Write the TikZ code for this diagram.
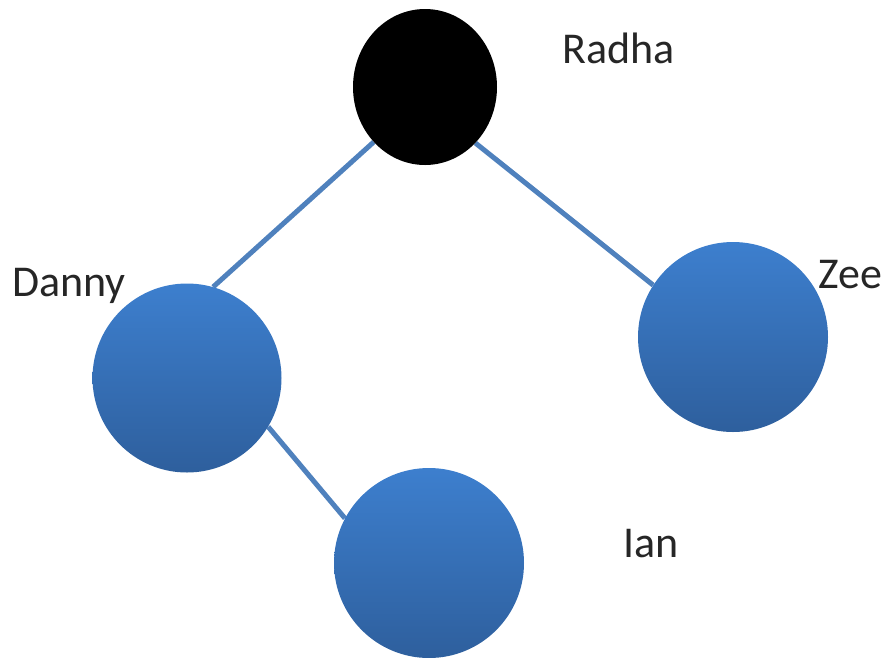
\documentclass[tikz,border=0pt]{standalone}
\usepackage{fontspec}
\setmainfont{Carlito}
\usetikzlibrary{shapes.geometric,backgrounds}
\definecolor{linkblue}{HTML}{4F81BD}
\definecolor{balltop}{HTML}{3D7FCE}
\definecolor{ballbot}{HTML}{2E5F9D}
\tikzset{
  ball/.style={circle, draw=none, inner sep=0pt, minimum size=#1,
    top color=balltop, bottom color=ballbot},
  rootball/.style={ellipse, fill=black, inner sep=0pt,
    minimum width=144pt, minimum height=156pt},
  link/.style={draw=linkblue, line width=5pt},
  tag/.style={anchor=base west, font=\fontsize{44}{50}\selectfont, text=black!85, inner sep=0pt}
}
\begin{document}
\begin{tikzpicture}[x=1pt,y=-1pt]
  \useasboundingbox (0,0) rectangle (889,657);
  % nodes of the tree
  \node[rootball] (radha) at (425,87) {};
  \node[ball=189pt] (danny) at (187,378) {};
  \node[ball=190pt] (zee) at (733,337) {};
  \node[ball=190pt] (ian) at (429,563) {};
  % edges, drawn under the nodes
  \begin{pgfonlayer}{background}
    \draw[link] (radha.227.7) -- (danny.74);
    \draw[link] (radha.312.3) -- (zee.147);
    \draw[link] (danny.329) -- (ian.152.3);
  \end{pgfonlayer}
  % labels
  \node[tag] (lradha) at (562,63) {Radha};
  \node[tag] (ldanny) at (12,296) {Danny};
  \node[tag] (lzee) at (818,288) {Zee};
  \node[tag] (lian) at (623,557) {Ian};
\end{tikzpicture}
\end{document}
